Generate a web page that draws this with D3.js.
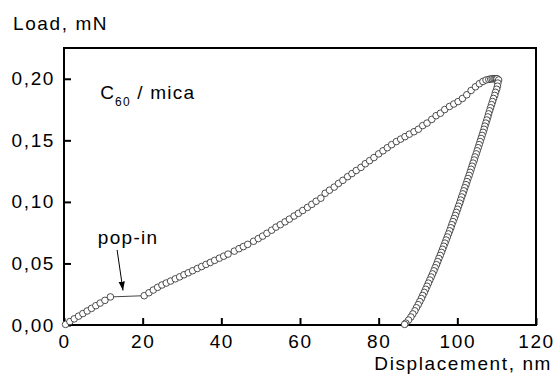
<!DOCTYPE html>
<html>
<head>
<meta charset="utf-8">
<script src="https://cdn.jsdelivr.net/npm/d3@7"></script>
<style>
    body { margin: 0; background: #fff; }
    svg { display: block; }
</style>
</head>
<body>
<script>
// loading branch, up to the pop-in
const loadX1 = [0.4, 1.5, 2.6, 3.7, 4.8, 5.9, 7.0, 8.1, 9.2, 10.4, 11.8]
const loadY1 = [0.0005, 0.0028, 0.0050, 0.0072, 0.0093, 0.0114, 0.0135, 0.0157, 0.0178, 0.0200, 0.0228]

// loading branch, after the pop-in
const loadX2 = [20.4, 21.6, 22.7, 23.8, 24.9, 26.0, 27.1, 28.3, 29.4, 30.5, 31.6, 32.7, 33.9, 35.0, 36.1, 37.2, 38.3, 39.5, 40.6, 41.7,
    43.3, 44.5, 45.6, 46.7, 48.2, 49.4, 50.5, 51.6, 52.8, 53.9, 55.0, 56.2, 57.3, 58.5, 59.6, 60.7, 61.9, 63.0, 64.1, 65.3,
    66.4, 67.5, 68.7, 69.8, 70.9, 72.1, 73.2, 74.3, 75.5, 76.6, 77.7, 78.8, 80.0, 81.1, 82.2, 83.3, 84.5, 85.6, 86.7, 87.8,
    89.0, 90.1, 91.2, 92.3, 93.5, 94.6, 95.7, 96.8, 98.0, 99.1, 100.2, 101.3, 102.4, 103.5, 104.6, 105.6, 106.5, 107.3, 108.0, 108.5,
    108.9, 109.3, 109.6, 109.9, 110.1]
const loadY2 = [0.0238, 0.0262, 0.0284, 0.0306, 0.0325, 0.0341, 0.0357, 0.0375, 0.0391, 0.0408, 0.0424, 0.0441, 0.0459, 0.0475, 0.0492, 0.0508, 0.0525, 0.0543, 0.0559, 0.0576,
    0.0600, 0.0620, 0.0637, 0.0655, 0.0680, 0.0702, 0.0722, 0.0745, 0.0770, 0.0795, 0.0815, 0.0838, 0.0860, 0.0885, 0.0907, 0.0930, 0.0955, 0.0980, 0.1005, 0.1030,
    0.1070, 0.1095, 0.1120, 0.1150, 0.1175, 0.1205, 0.1230, 0.1255, 0.1280, 0.1310, 0.1335, 0.1360, 0.1390, 0.1415, 0.1440, 0.1465, 0.1490, 0.1510, 0.1530, 0.1550,
    0.1570, 0.1590, 0.1620, 0.1640, 0.1670, 0.1700, 0.1720, 0.1750, 0.1775, 0.1795, 0.1815, 0.1840, 0.1870, 0.1905, 0.1935, 0.1960, 0.1978, 0.1990, 0.1995, 0.1998,
    0.2000, 0.2000, 0.2000, 0.2000, 0.2000]

// unloading branch
const unloadX = [110.5, 110.3, 110.2, 110.0, 109.7, 109.5, 109.2, 108.95, 108.7, 108.45, 108.2, 107.95, 107.75, 107.5, 107.25, 107.0, 106.8, 106.55, 106.3, 106.05,
    105.8, 105.55, 105.3, 105.05, 104.8, 104.5, 104.3, 104.0, 103.75, 103.5, 103.25, 103.0, 102.7, 102.45, 102.2, 101.9, 101.65, 101.4, 101.1, 100.85,
    100.6, 100.3, 100.05, 99.75, 99.5, 99.2, 98.9, 98.6, 98.35, 98.05, 97.75, 97.45, 97.15, 96.85, 96.55, 96.25, 95.95, 95.65, 95.3, 95.0,
    94.7, 94.35, 94.05, 93.7, 93.35, 93.0, 92.65, 92.3, 91.95, 91.6, 91.2, 90.85, 90.45, 90.05, 89.6, 89.2, 88.7, 88.2, 87.6, 86.9, 86.6]
const unloadY = [0.1990, 0.1965, 0.1940, 0.1915, 0.1890, 0.1865, 0.1840, 0.1815, 0.1790, 0.1765, 0.1740, 0.1715, 0.1690, 0.1665, 0.1640, 0.1615, 0.1590, 0.1565, 0.1540, 0.1515,
    0.1490, 0.1465, 0.1440, 0.1415, 0.1390, 0.1365, 0.1340, 0.1315, 0.1290, 0.1265, 0.1240, 0.1215, 0.1190, 0.1165, 0.1140, 0.1115, 0.1090, 0.1065, 0.1040, 0.1015,
    0.0990, 0.0965, 0.0940, 0.0915, 0.0890, 0.0865, 0.0840, 0.0815, 0.0790, 0.0765, 0.0740, 0.0715, 0.0690, 0.0665, 0.0640, 0.0615, 0.0590, 0.0565, 0.0540, 0.0515,
    0.0490, 0.0465, 0.0440, 0.0415, 0.0390, 0.0365, 0.0340, 0.0315, 0.0290, 0.0265, 0.0240, 0.0215, 0.0190, 0.0165, 0.0140, 0.0115, 0.0090, 0.0065, 0.0040, 0.0015, 0.0005]

const xTicks = [0, 20, 40, 60, 80, 100, 120]
const yTicks = [0, 0.05, 0.10, 0.15, 0.20]
const xDomain = [0, 120]
const yDomain = [0, 0.225]

// annotation anchors, in data units
const popInLabel = {x: 8.6, y: 0.0655, text: 'pop-in'}
const popInArrow = {x1: 13.5, y1: 0.061, x2: 15.0, y2: 0.028}
const sampleLabel = {x: 9.2, y: 0.1835}

const width = 555
const height = 378
const margin = {top: 48, right: 19, bottom: 53, left: 64}
const font = '"Liberation Sans", Arial, sans-serif'
const fontSize = '19px'
const spacing = '1.6px'

const svg = d3.select('body').append('svg')
    .attr('width', width)
    .attr('height', height)
    .style('font-family', font)

const x = d3.scaleLinear(xDomain, [margin.left, width - margin.right])
const y = d3.scaleLinear(yDomain, [height - margin.bottom, margin.top])

const comma = d3.formatLocale({decimal: ',', thousands: '.', grouping: [3], currency: ['', '']})

svg.append('defs').append('marker')
    .attr('id', 'arrow')
    .attr('viewBox', '0 -5 10 10')
    .attr('refX', 10)
    .attr('refY', 0)
    .attr('markerWidth', 9)
    .attr('markerHeight', 9)
    .attr('markerUnits', 'userSpaceOnUse')
    .attr('orient', 'auto')
    .append('path')
    .attr('d', 'M0,-3.5L10,0L0,3.5Z')
    .attr('fill', '#000')

const axisStyle = (g) => {
    g.select('.domain').remove()
    g.selectAll('.tick line').attr('stroke', '#000').attr('stroke-width', 2)
    g.selectAll('.tick text')
        .attr('fill', '#000')
        .style('font-family', font)
        .style('font-size', fontSize)
        .style('letter-spacing', spacing)
}

svg.append('g')
    .attr('transform', `translate(0,${height - margin.bottom})`)
    .call(d3.axisBottom(x).tickValues(xTicks).tickSizeInner(-7).tickSizeOuter(0).tickPadding(10).tickFormat(d3.format('d')))
    .call(axisStyle)

svg.append('g')
    .attr('transform', `translate(${margin.left},0)`)
    .call(d3.axisLeft(y).tickValues(yTicks).tickSizeInner(-7).tickSizeOuter(0).tickPadding(9).tickFormat(comma.format('.2f')))
    .call(axisStyle)

svg.append('rect')
    .attr('x', margin.left)
    .attr('y', margin.top)
    .attr('width', width - margin.left - margin.right)
    .attr('height', height - margin.top - margin.bottom)
    .attr('fill', 'none')
    .attr('stroke', '#000')
    .attr('stroke-width', 2)

svg.append('text')
    .attr('x', 13)
    .attr('y', 30)
    .style('font-size', fontSize)
    .style('letter-spacing', spacing)
    .text('Load, mN')

svg.append('text')
    .attr('x', width - 3)
    .attr('y', 370)
    .attr('text-anchor', 'end')
    .style('font-size', fontSize)
    .style('letter-spacing', spacing)
    .text('Displacement, nm')

const sample = svg.append('text')
    .attr('x', x(sampleLabel.x))
    .attr('y', y(sampleLabel.y))
    .style('font-size', '19px')
    .style('letter-spacing', '1.2px')
sample.append('tspan').text('C')
sample.append('tspan').attr('dy', 7).style('font-size', '12px').text('60')
sample.append('tspan').attr('dy', -7).text(' / mica')

svg.append('text')
    .attr('x', x(popInLabel.x))
    .attr('y', y(popInLabel.y))
    .style('font-size', fontSize)
    .style('letter-spacing', '1.3px')
    .text(popInLabel.text)

svg.append('line')
    .attr('x1', x(popInArrow.x1))
    .attr('y1', y(popInArrow.y1))
    .attr('x2', x(popInArrow.x2))
    .attr('y2', y(popInArrow.y2))
    .attr('stroke', '#000')
    .attr('stroke-width', 1)
    .attr('marker-end', 'url(#arrow)')

// the pop-in gap is bridged by a thin line
svg.append('line')
    .attr('x1', x(loadX1[loadX1.length - 1]))
    .attr('y1', y(loadY1[loadY1.length - 1]))
    .attr('x2', x(loadX2[0]))
    .attr('y2', y(loadY2[0]))
    .attr('stroke', '#444')
    .attr('stroke-width', 1)

const points = [
    ...loadX1.map((d, i) => [d, loadY1[i]]),
    ...loadX2.map((d, i) => [d, loadY2[i]]),
    ...unloadX.map((d, i) => [d, unloadY[i]]),
]

svg.append('g')
    .attr('fill', '#fff')
    .attr('stroke', '#222')
    .attr('stroke-width', 0.8)
    .selectAll('circle')
    .data(points)
    .join('circle')
    .attr('cx', d => x(d[0]))
    .attr('cy', d => y(d[1]))
    .attr('r', 3.3)
</script>
</body>
</html>
